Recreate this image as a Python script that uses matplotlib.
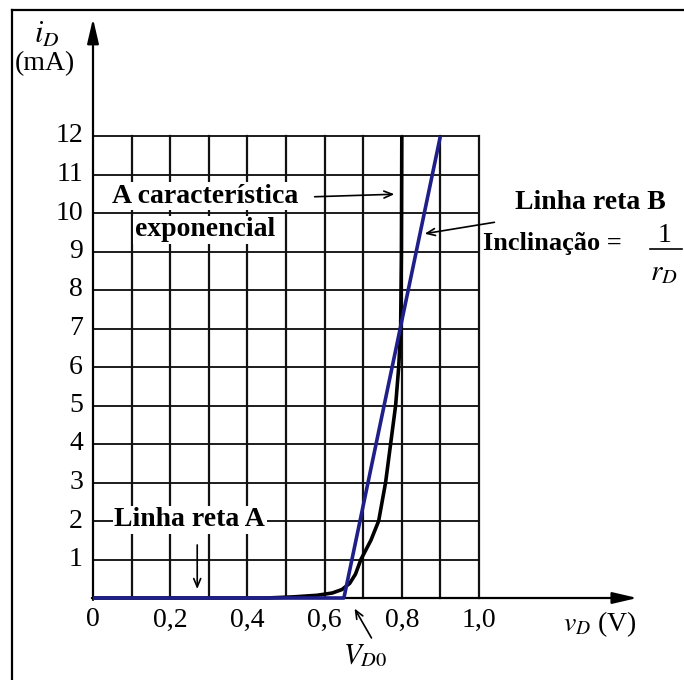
import numpy as np
import matplotlib
matplotlib.use('Agg')
import matplotlib.pyplot as plt
from matplotlib.lines import Line2D

plt.rcParams['font.family'] = ['Liberation Serif', 'DejaVu Serif']
plt.rcParams['mathtext.fontset'] = 'stix'

# curva exponencial (vD em V, iD em mA)
v_exp = [0.0, 0.45, 0.52, 0.58, 0.62, 0.645, 0.665, 0.68, 0.694, 0.72, 0.74,
         0.758, 0.771, 0.784, 0.792, 0.797, 0.799, 0.800]
i_exp = [0.0, 0.0, 0.03, 0.07, 0.13, 0.22, 0.38, 0.62, 1.0, 1.5, 2.0,
         3.0, 4.0, 5.0, 6.0, 7.0, 9.0, 12.0]

# linha reta A + linha reta B (modelo por partes)
v_reta = [0.0, 0.65, 0.90]
i_reta = [0.0, 0.0, 12.0]

x_ticks = [0.0, 0.2, 0.4, 0.6, 0.8, 1.0]
x_labels = ['0', '0,2', '0,4', '0,6', '0,8', '1,0']
y_ticks = list(range(1, 13))

W, H = 684, 680
fig = plt.figure(figsize=(W / 100, H / 100), dpi=100)
ax = fig.add_axes([0, 0, 1, 1])
ax.axis('off')

# escala: 386 px por volt, 38.5 px por mA, origem em (93, 598)
sx, sy, x0, y0 = 386.0, 38.5, 93.0, 598.0
ax.set_xlim(-x0 / sx, (W - x0) / sx)
ax.set_ylim(-(H - y0) / sy, y0 / sy)

# moldura (esquerda e topo)
fig.add_artist(Line2D([12 / W, 12 / W], [0, 1 - 10 / H], color='black', lw=1.6))
fig.add_artist(Line2D([12 / W, 1], [1 - 10 / H, 1 - 10 / H], color='black', lw=1.6))

# grade
for yv in y_ticks:
    ax.plot([0, 1.0], [yv, yv], color='#1c1c1c', lw=1.4, zorder=1)
for xv in np.arange(1, 11) / 10:
    ax.plot([xv, xv], [0, 12], color='#111111', lw=1.6, zorder=1)

# eixos com setas
ax.annotate('', xy=(0, 15.05), xytext=(0, -0.05),
            arrowprops=dict(arrowstyle='-|>,head_length=1.5,head_width=0.35',
                            color='black', lw=1.6, shrinkA=0, shrinkB=0), zorder=3)
ax.annotate('', xy=(1.41, 0), xytext=(-0.003, 0),
            arrowprops=dict(arrowstyle='-|>,head_length=1.5,head_width=0.35',
                            color='black', lw=1.6, shrinkA=0, shrinkB=0), zorder=3)

# curvas
ax.plot(v_exp, i_exp, color='black', lw=2.6, zorder=4, solid_capstyle='butt',
        solid_joinstyle='round')
ax.plot(v_reta, i_reta, color='#1f1f8a', lw=2.6, zorder=5, solid_capstyle='butt')

# rotulos dos eixos
for xv, lab in zip(x_ticks, x_labels):
    ax.text(xv, -0.57, lab, ha='center', va='center', fontsize=20)
for yv in y_ticks:
    ax.text(-0.026, yv, str(yv), ha='right', va='center', fontsize=20)

ax.text(-0.119, 14.62, '$i_D$', ha='center', va='center', fontsize=22)
ax.text(-0.124, 13.88, '(mA)', ha='center', va='center', fontsize=20)
ax.text(1.313, -0.68, '$v_D$ (V)', ha='center', va='center', fontsize=20)

bb = dict(facecolor='white', edgecolor='none', pad=1)
fb = 20

# anotacoes
ax.text(0.29, 10.44, 'A característica', ha='center', va='center',
        fontsize=fb, fontweight='bold', bbox=bb, zorder=6)
ax.text(0.29, 9.56, 'exponencial', ha='center', va='center',
        fontsize=fb, fontweight='bold', bbox=bb, zorder=6)
ax.annotate('', xy=(0.788, 10.49), xytext=(0.567, 10.42),
            arrowprops=dict(arrowstyle='->,head_length=0.6,head_width=0.25',
                            color='black', lw=1.2), zorder=6)

ax.text(1.288, 10.28, 'Linha reta B', ha='center', va='center',
        fontsize=fb, fontweight='bold', bbox=bb, zorder=6)
ax.text(1.01, 9.2, 'Inclinação =', ha='left', va='center',
        fontsize=19, fontweight='bold', bbox=bb, zorder=6)
ax.text(1.48, 9.42, '1', ha='center', va='center', fontsize=20, zorder=6)
ax.plot([1.443, 1.526], [9.06, 9.06], color='black', lw=1.2, zorder=6)
ax.text(1.48, 8.45, '$r_D$', ha='center', va='center', fontsize=21, zorder=6)
ax.annotate('', xy=(0.852, 9.45), xytext=(1.047, 9.77),
            arrowprops=dict(arrowstyle='->,head_length=0.6,head_width=0.25',
                            color='black', lw=1.2), zorder=6)

ax.text(0.251, 2.03, 'Linha reta A', ha='center', va='center',
        fontsize=fb, fontweight='bold', bbox=bb, zorder=6)
ax.annotate('', xy=(0.27, 0.16), xytext=(0.27, 1.45),
            arrowprops=dict(arrowstyle='->,head_length=0.6,head_width=0.25',
                            color='black', lw=1.2), zorder=6)

ax.text(0.705, -1.5, '$V_{D0}$', ha='center', va='center', fontsize=21)
ax.annotate('', xy=(0.674, -0.21), xytext=(0.725, -1.1),
            arrowprops=dict(arrowstyle='->,head_length=0.6,head_width=0.25',
                            color='black', lw=1.2))

fig.savefig('out.png', dpi=100, facecolor='white')
